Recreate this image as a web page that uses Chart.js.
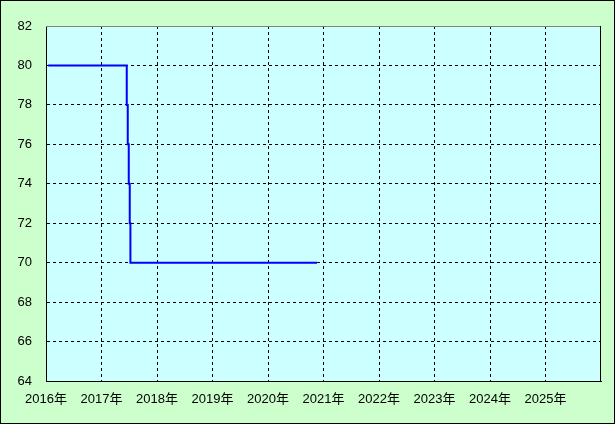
<!DOCTYPE html>
<html>
<head>
<meta charset="utf-8">
<script src="https://cdn.jsdelivr.net/npm/chart.js@4/dist/chart.umd.min.js"></script>
<style>
  body { margin: 0; background: #ccffcc; }
  canvas { display: block; }
</style>
</head>
<body>
<canvas id="rate-chart" width="615" height="424"></canvas>
<script>
// data (x in decimal years)
const pointYears = [2016.04, 2017.455, 2017.473, 2017.491, 2017.509, 2017.521, 2020.883];
const pointValues = [80, 78, 76, 74, 72, 70, 70];
const yearTicks = [2016, 2017, 2018, 2019, 2020, 2021, 2022, 2023, 2024, 2025];
const yMin = 64, yMax = 82, yStep = 2;

const FONT = { family: "'Liberation Sans', 'Noto Sans CJK JP', sans-serif", size: 13 };

// backgrounds and frame
const framePlugin = {
  id: 'frame',
  beforeDraw: function(chart) {
    const ctx = chart.ctx, a = chart.chartArea;
    ctx.save();
    ctx.fillStyle = '#ccffcc';
    ctx.fillRect(0, 0, chart.width, chart.height);
    ctx.strokeStyle = '#000';
    ctx.lineWidth = 1;
    ctx.strokeRect(0.5, 0.5, chart.width - 1, chart.height - 1);
    ctx.fillStyle = '#ccffff';
    ctx.fillRect(a.left, a.top, a.right - a.left, a.bottom - a.top);
    ctx.restore();
  },
  afterDraw: function(chart) {
    const ctx = chart.ctx, a = chart.chartArea;
    ctx.save();
    ctx.lineWidth = 1;
    ctx.strokeStyle = '#808080';
    ctx.beginPath();
    ctx.moveTo(a.left, a.top + 0.5);
    ctx.lineTo(a.right, a.top + 0.5);
    ctx.stroke();
    ctx.strokeStyle = '#000';
    ctx.beginPath();
    ctx.moveTo(a.right - 0.5, a.top);
    ctx.lineTo(a.right - 0.5, a.bottom);
    ctx.stroke();
    ctx.restore();
  }
};

const rateCanvas = document.getElementById('rate-chart');
const rateChart = new Chart(rateCanvas, {
  type: 'line',
  data: {
    datasets: [{
      data: pointYears.map(function(x, i) { return { x: x, y: pointValues[i] }; }),
      borderColor: '#0000ff',
      borderWidth: 2,
      pointRadius: 0,
      stepped: 'before',
      fill: false
    }]
  },
  options: {
    responsive: false,
    animation: false,
    layout: { padding: { left: 0, top: 26, right: 14, bottom: 0 } },
    plugins: { legend: { display: false }, tooltip: { enabled: false } },
    scales: {
      x: {
        type: 'linear',
        min: yearTicks[0],
        max: yearTicks[yearTicks.length - 1] + 1,
        afterBuildTicks: function(scale) {
          scale.ticks = yearTicks.concat([yearTicks[yearTicks.length - 1] + 1]).map(function(v) { return { value: v }; });
        },
        afterFit: function(scale) { scale.height = 43; },
        ticks: {
          autoSkip: false,
          maxRotation: 0,
          padding: 11,
          color: '#000',
          font: FONT,
          callback: function(value) {
            return yearTicks.indexOf(value) >= 0 ? value + '年' : '';
          }
        },
        grid: {
          drawTicks: false,
          lineWidth: 1,
          color: function(c) {
            const v = c.tick && c.tick.value;
            return (v === yearTicks[0] || v === yearTicks[yearTicks.length - 1] + 1) ? 'rgba(0,0,0,0)' : '#000';
          }
        },
        border: { display: true, color: '#000', width: 1, dash: [3, 3] }
      },
      y: {
        min: yMin,
        max: yMax,
        afterFit: function(scale) { scale.width = 46; },
        ticks: {
          stepSize: yStep,
          padding: 14,
          color: '#000',
          font: FONT
        },
        grid: {
          drawTicks: false,
          lineWidth: 1,
          color: function(c) {
            const v = c.tick && c.tick.value;
            return (v === yMin || v === yMax) ? 'rgba(0,0,0,0)' : '#000';
          }
        },
        border: { display: true, color: '#000', width: 1, dash: [3, 3] }
      }
    }
  },
  plugins: [framePlugin]
});
</script>
</body>
</html>
